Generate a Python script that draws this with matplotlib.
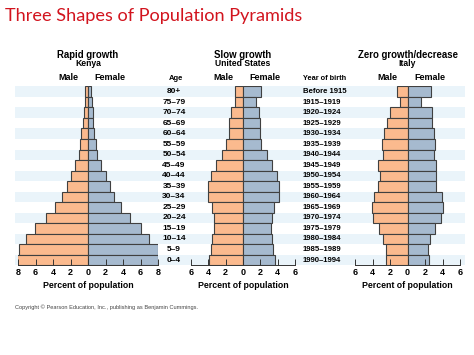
import numpy as np
import matplotlib
matplotlib.use("Agg")
import matplotlib.pyplot as plt

# age groups (top to bottom)
ages = ["80+", "75\u201379", "70\u201374", "65\u201369", "60\u201364", "55\u201359", "50\u201354",
        "45\u201349", "40\u201344", "35\u201339", "30\u201334", "25\u201329", "20\u201324",
        "15\u201319", "10\u201314", "5\u20139", "0\u20134"]
birth_years = ["Before 1915", "1915\u20131919", "1920\u20131924", "1925\u20131929", "1930\u20131934",
               "1935\u20131939", "1940\u20131944", "1945\u20131949", "1950\u20131954", "1955\u20131959",
               "1960\u20131964", "1965\u20131969", "1970\u20131974", "1975\u20131979", "1980\u20131984",
               "1985\u20131989", "1990\u20131994"]

kenya_male = [0.3, 0.35, 0.45, 0.6, 0.75, 0.95, 1.05, 1.45, 1.95, 2.4, 2.95, 3.75, 4.75, 6.1, 7.05, 7.9, 8.1]
kenya_female = [0.3, 0.4, 0.55, 0.6, 0.7, 0.9, 1.0, 1.45, 2.0, 2.5, 3.0, 3.75, 4.75, 6.0, 7.0, 8.0, 8.0]
us_male = [0.87, 0.87, 1.37, 1.6, 1.65, 2.0, 2.45, 3.1, 3.7, 4.05, 4.05, 3.6, 3.35, 3.4, 3.55, 3.75, 3.9]
us_female = [2.05, 1.5, 1.9, 2.0, 2.0, 2.1, 2.75, 3.3, 3.9, 4.2, 4.1, 3.55, 3.3, 3.25, 3.4, 3.5, 3.65]
italy_male = [1.25, 0.9, 1.95, 2.4, 2.65, 2.9, 2.8, 3.35, 3.15, 3.35, 3.8, 4.05, 3.9, 3.3, 2.8, 2.5, 2.5]
italy_female = [2.65, 1.5, 2.8, 2.85, 3.0, 3.15, 3.05, 3.3, 3.25, 3.3, 3.9, 4.05, 3.85, 3.15, 2.55, 2.35, 2.4]

panel_titles = ["Rapid growth", "Slow growth", "Zero growth/decrease"]
panel_countries = ["Kenya", "United States", "Italy"]
xticks_kenya = [-8, -6, -4, -2, 0, 2, 4, 6, 8]
xticks_other = [-6, -4, -2, 0, 2, 4, 6]

W, H = 474, 355
male_c = "#FBBA8E"
female_c = "#A6BACF"
edge_c = "#404040"
stripe_c = "#EAF4FA"
font = "Liberation Sans"

fig = plt.figure(figsize=(W / 100, H / 100), dpi=100)
fig.patch.set_facecolor("white")

def fx(px):
    return px / W

def fy(py):
    return 1 - py / H

n = len(ages)
ytop, ybot = 86.4, 265.3
ax_bottom = fy(ybot)
ax_height = (ybot - ytop) / H

# background stripes
bg = fig.add_axes([fx(15), ax_bottom, fx(465 - 15), ax_height])
bg.set_xlim(0, 1)
bg.set_ylim(n - 0.5, -0.5)
for i in range(0, n, 2):
    bg.axhspan(i - 0.5, i + 0.5, color=stripe_c, lw=0)
bg.axis("off")

panels = [
    (kenya_male, kenya_female, 18, 158, 8, xticks_kenya),
    (us_male, us_female, 191, 295, 6, xticks_other),
    (italy_male, italy_female, 355, 460, 6, xticks_other),
]

y = np.arange(n)
for k, (male, female, x0, x1, lim, ticks) in enumerate(panels):
    ax = fig.add_axes([fx(x0), ax_bottom, fx(x1 - x0), ax_height])
    ax.patch.set_alpha(0)
    ax.barh(y, -np.array(male), height=1.0, color=male_c, edgecolor=edge_c, lw=0.8)
    ax.barh(y, female, height=1.0, color=female_c, edgecolor=edge_c, lw=0.8)
    ax.set_xlim(-lim, lim)
    ax.set_ylim(n - 0.5, -0.5)
    ax.set_yticks([])
    ax.set_xticks(ticks)
    ax.set_xticklabels([str(abs(t)) for t in ticks], fontsize=6.5, fontweight="bold", family=font)
    ax.tick_params(axis="x", direction="in", length=4, width=0.7, pad=2, color="#333333")
    for s in ["top", "left", "right"]:
        ax.spines[s].set_visible(False)
    ax.spines["bottom"].set_linewidth(0.7)
    ax.spines["bottom"].set_color("#333333")
    cx = (x0 + x1) / 2
    fig.text(fx(cx), fy(55), panel_titles[k], ha="center", va="center",
             fontsize=6.9, fontweight="bold", family=font)
    fig.text(fx(cx), fy(64), panel_countries[k], ha="center", va="center",
             fontsize=6.2, fontweight="bold", family=font)
    fig.text(fx(cx - 20), fy(77), "Male", ha="center", va="center",
             fontsize=6.5, fontweight="bold", family=font)
    fig.text(fx(cx + 22), fy(77), "Female", ha="center", va="center",
             fontsize=6.5, fontweight="bold", family=font)
    fig.text(fx(cx), fy(286), "Percent of population", ha="center", va="center",
             fontsize=6.3, fontweight="bold", family=font)

# age and year labels
fig.text(fx(176), fy(78), "Age", ha="center", va="center", fontsize=5.5, fontweight="bold", family=font)
fig.text(fx(303), fy(78), "Year of birth", ha="left", va="center", fontsize=5.3, fontweight="bold", family=font)
row_h = (ybot - ytop) / n
for i in range(n):
    yy = ytop + row_h * (i + 0.5)
    fig.text(fx(174), fy(yy), ages[i], ha="center", va="center", fontsize=6, fontweight="bold", family=font)
    fig.text(fx(303), fy(yy), birth_years[i], ha="left", va="center", fontsize=5.6, fontweight="bold", family=font)

fig.text(fx(5), fy(16), "Three Shapes of Population Pyramids", ha="left", va="center",
         fontsize=13.1, color="#D2141E", family="Lato")
fig.text(fx(15), fy(307), "Copyright \u00a9 Pearson Education, Inc., publishing as Benjamin Cummings.",
         ha="left", va="center", fontsize=4.1, color="#444444", family=font)

fig.savefig("out.png", dpi=100)
